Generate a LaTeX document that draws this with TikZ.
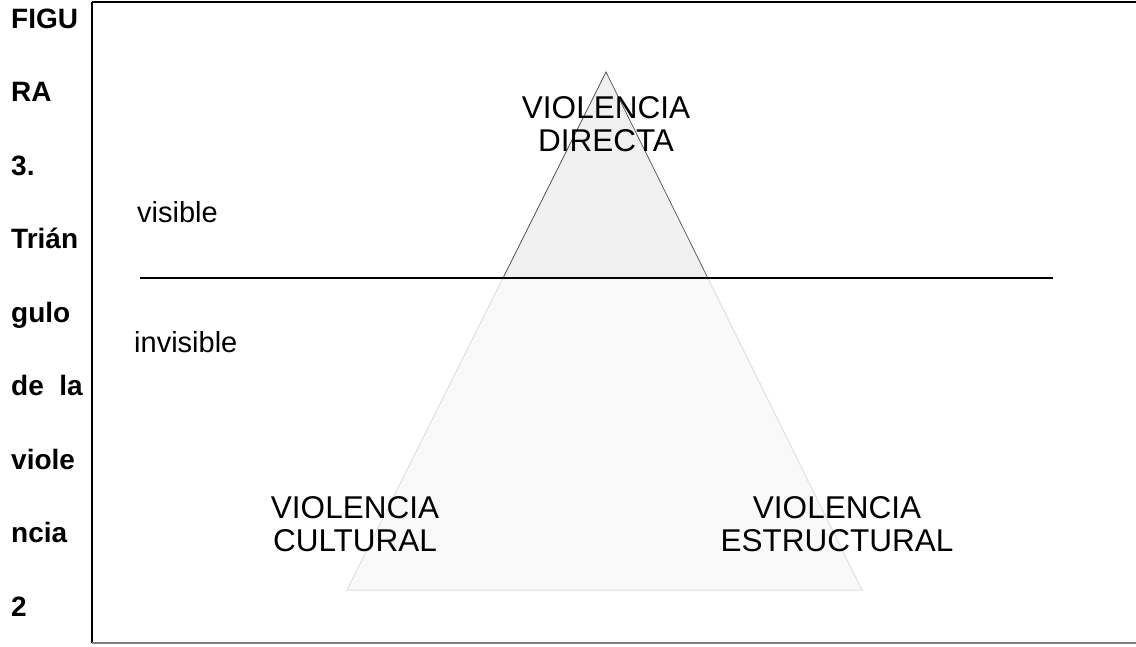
\documentclass[tikz,border=0pt]{standalone}
\usepackage{fontspec}
\setmainfont{Liberation Sans}
\usetikzlibrary{calc}
\definecolor{upfill}{HTML}{F0F0F0}
\definecolor{upedge}{HTML}{505050}
\definecolor{lowfill}{HTML}{F9F9F9}
\definecolor{lowedge}{HTML}{E0E0E0}
\definecolor{boxgray}{HTML}{808080}
\tikzset{
  sidetext/.style={anchor=base west, inner sep=0pt, font=\fontsize{28}{28}\selectfont\bfseries},
  biglabel/.style={anchor=center, inner sep=0pt, align=center, font=\fontsize{31.5}{33.5}\selectfont},
  zonelabel/.style={anchor=base west, inner sep=0pt, font=\fontsize{29}{29}\selectfont},
}
\begin{document}
\begin{tikzpicture}[x=1pt,y=-1pt]
\useasboundingbox (0,0) rectangle (1136,646);
% frame
\coordinate (bl0) at (92,643);
\coordinate (tl0) at (92,2);
\coordinate (tr0) at (1137,2);
\coordinate (br0) at (1137,643);
\draw[black, line width=1.6pt] (bl0) -- (tl0);
\draw[black, line width=2pt] (tl0) -- (tr0);
\draw[boxgray, line width=1.4pt] (bl0) -- (br0);
% triangle
\coordinate (apex) at (606,72);
\coordinate (bleft) at (347,590);
\coordinate (bright) at (862,590);
\coordinate (mleft) at ($(apex)!0.3977!(bleft)$);
\coordinate (mright) at ($(apex)!0.3977!(bright)$);
\filldraw[fill=lowfill, draw=lowedge, line width=1pt] (mleft) -- (bleft) -- (bright) -- (mright);
\filldraw[fill=upfill, draw=upedge, line width=0.7pt] (mleft) -- (apex) -- (mright);
% horizon line
\coordinate (hl) at (140,278);
\coordinate (hr) at (1053,278);
\draw[black, line width=1.2pt] (hl) -- (hr);
% labels
\node[biglabel] (direct) at (606,124) {VIOLENCIA\\DIRECTA};
\node[biglabel] (cult) at (355,524) {VIOLENCIA\\CULTURAL};
\node[biglabel] (estr) at (837,524) {VIOLENCIA\\ESTRUCTURAL};
\node[zonelabel] (vis) at (137,222) {visible};
\node[zonelabel] (invis) at (134,352) {invisible};
% side caption
\node[sidetext] (c1) at (11,28) {FIGU};
\node[sidetext] (c2) at (11,101.5) {RA};
\node[sidetext] (c3) at (11,175) {3.};
\node[sidetext] (c4) at (11,248.5) {Trián};
\node[sidetext] (c5) at (11,322) {gulo};
\node[sidetext] (c6) at (11,395.5) {de\ \ la};
\node[sidetext] (c7) at (11,469) {viole};
\node[sidetext] (c8) at (11,542.5) {ncia};
\node[sidetext] (c9) at (11,616) {2};
\end{tikzpicture}
\end{document}
